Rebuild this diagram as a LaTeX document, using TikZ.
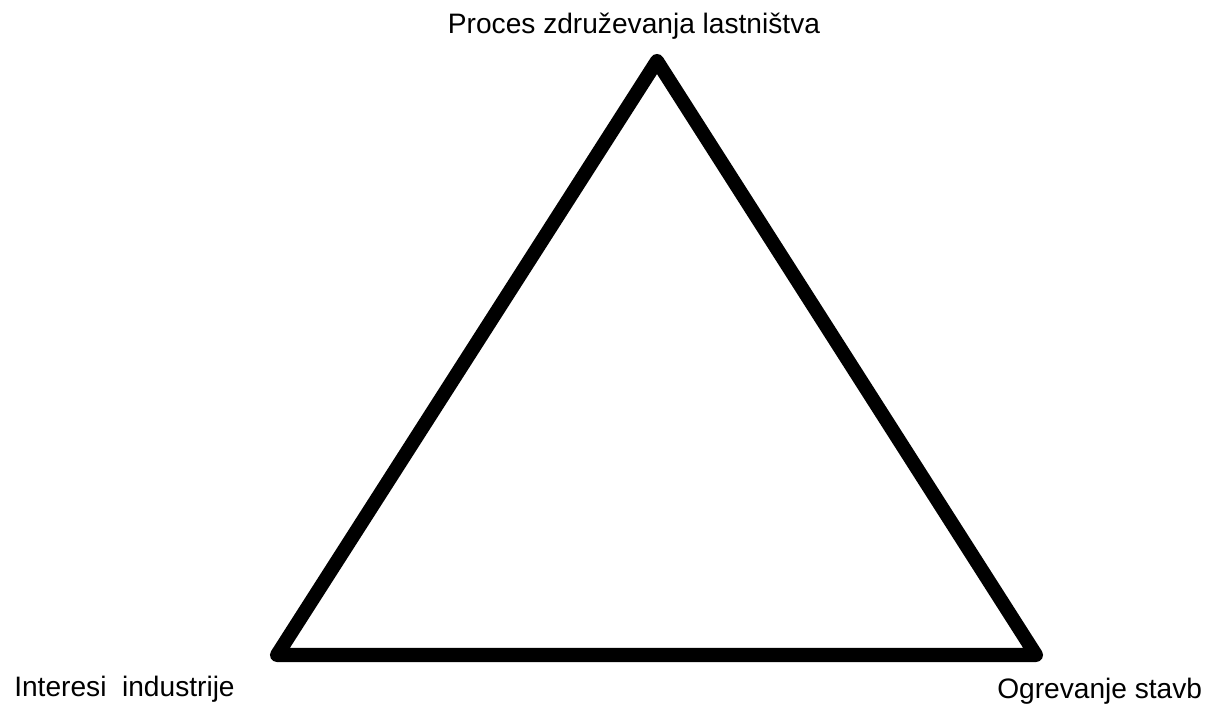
\documentclass[tikz,border=0pt]{standalone}
\usepackage{fontspec}
\setmainfont{Liberation Sans}
\usepackage{tikz}

\begin{document}
\begin{tikzpicture}[x=0.025cm,y=-0.025cm,
		label/.style={inner sep=0pt,font=\fontsize{20}{24}\selectfont}]
			\useasboundingbox (0,0) rectangle (1205,707);
			\coordinate (top) at (657,61);
			\coordinate (left) at (277,655);
			\coordinate (right) at (1036,655);
			\draw[line width=10pt,line join=round] (top) -- (left) -- (right) -- cycle;
			\node[label,anchor=base] (proces) at (634,34) {Proces združevanja lastništva};
			\node[label,anchor=base west] (interesi) at (14,697) {Interesi\ \ industrije};
			\node[label,anchor=base west] (ogrevanje) at (997,699) {Ogrevanje stavb};
		\end{tikzpicture}
\end{document}
